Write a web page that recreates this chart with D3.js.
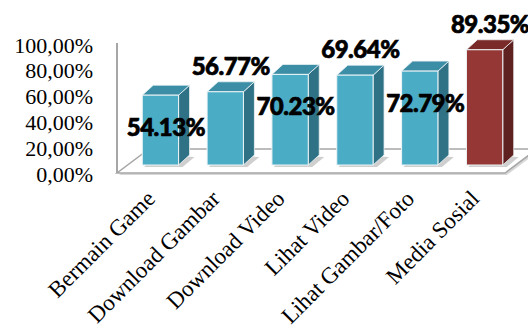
<!DOCTYPE html>
<html lang="en">
<head>
<meta charset="utf-8">
<script src="https://cdn.jsdelivr.net/npm/d3@7"></script>
<style>
  body { margin: 0; background: #fff; }
  svg { display: block; }
  .ylab text { font-family: "Liberation Serif", "Times New Roman", serif; font-size: 22px; fill: #000; }
  .xlab { font-family: "Liberation Serif", "Times New Roman", serif; font-size: 23px; fill: #000; }
  .vlab { font-family: Lato, "Liberation Sans", sans-serif; font-weight: 900; font-size: 24px; fill: #000;
          stroke: #000; stroke-width: 0.7px; letter-spacing: -0.5px; }
</style>
</head>
<body>
<svg width="528" height="334"></svg>
<script>
// data
var categories = ["Bermain Game", "Download Gambar", "Download Video", "Lihat Video", "Lihat Gambar/Foto", "Media Sosial"];
var values = [54.13, 56.77, 70.23, 69.64, 72.79, 89.35];
var yTicks = [0, 20, 40, 60, 80, 100];
var highlight = "Media Sosial";

var svg = d3.select("svg");

var x = d3.scaleBand()
    .domain(categories)
    .range([128, 517])
    .paddingInner(0.44)
    .paddingOuter(0.22);

var y = d3.scaleLinear().domain([0, 100]).range([174, 45]);

// 3d look
var depth = { dx: 11, dy: -10 };
var front = -9;  // front of bars sits a bit above the axis zero line

// floor + wall
var floorG = svg.append("g");
floorG.append("polygon")
    .attr("points", [[119, 175], [507, 175], [539, 151], [151, 151]].join(" "))
    .attr("fill", "#d8d8d8");
floorG.append("polygon")
    .attr("points", [[117, 173], [505, 173], [537, 149], [149, 149]].join(" "))
    .attr("fill", "#fff")
    .attr("stroke", "#a6a6a6")
    .attr("stroke-width", 1.5);
floorG.append("line")
    .attr("x1", 117).attr("x2", 117)
    .attr("y1", y(100) - 2).attr("y2", 173)
    .attr("stroke", "#a6a6a6").attr("stroke-width", 2);

// y axis labels
var yAxis = d3.axisLeft(y)
    .tickValues(yTicks)
    .tickSize(0)
    .tickPadding(0)
    .tickFormat(function (d) { return d3.format(".2f")(d).replace(".", ",") + "%"; });

svg.append("g")
    .attr("class", "ylab")
    .attr("transform", "translate(93,0)")
    .call(yAxis)
    .call(function (g) { g.select(".domain").remove(); });

// bars
var bars = svg.append("g")
    .selectAll("g")
    .data(categories)
    .enter()
    .append("g");

function col(d, part) {
    var red = d === highlight;
    if (part === "front") return red ? "#953735" : "#4bacc6";
    if (part === "side") return red ? "#5f2120" : "#2f7285";
    return red ? "#7a2b29" : "#3b8ea5";
}

bars.each(function (d, i) {
    var g = d3.select(this);
    var x0 = x(d), w = x.bandwidth();
    var yb = y(0) + front, yt = y(values[i]) + front;
    // shadow on floor
    g.append("polygon")
        .attr("points", [[x0 + 2, yb + 2], [x0 + w + 4, yb + 2], [x0 + w + depth.dx + 5, yb + depth.dy + 2], [x0 + depth.dx, yb + depth.dy]].join(" "))
        .attr("fill", "#cfcfcf");
    // side
    g.append("polygon")
        .attr("points", [[x0 + w, yb], [x0 + w + depth.dx, yb + depth.dy], [x0 + w + depth.dx, yt + depth.dy], [x0 + w, yt]].join(" "))
        .attr("fill", col(d, "side"))
        .attr("stroke", "#eef4f6").attr("stroke-width", 0.8);
    // top
    g.append("polygon")
        .attr("points", [[x0, yt], [x0 + w, yt], [x0 + w + depth.dx, yt + depth.dy], [x0 + depth.dx, yt + depth.dy]].join(" "))
        .attr("fill", col(d, "top"))
        .attr("stroke", "#eef4f6").attr("stroke-width", 0.8);
    // front
    g.append("rect")
        .attr("x", x0).attr("y", yt)
        .attr("width", w).attr("height", yb - yt)
        .attr("fill", col(d, "front"))
        .attr("stroke", "#eef4f6").attr("stroke-width", 1);
});

// value labels, alternating inside / above
svg.append("g")
    .selectAll("text")
    .data(categories)
    .enter()
    .append("text")
    .attr("class", "vlab")
    .attr("text-anchor", "middle")
    .attr("x", function (d) { return x(d) + x.bandwidth() / 2 + depth.dx / 2; })
    .attr("y", function (d, i) {
        var yt = y(values[i]) + front;
        return i % 2 === 0 ? yt + 41 : yt - 17;
    })
    .text(function (d, i) { return values[i].toFixed(2) + "%"; });

// category labels, rotated
svg.append("g")
    .selectAll("text")
    .data(categories)
    .enter()
    .append("text")
    .attr("class", "xlab")
    .attr("text-anchor", "end")
    .attr("transform", function (d) {
        return "translate(" + (x(d) + x.bandwidth() / 2 - 4) + ",200) rotate(-45)";
    })
    .text(function (d) { return d; });
</script>
</body>
</html>
